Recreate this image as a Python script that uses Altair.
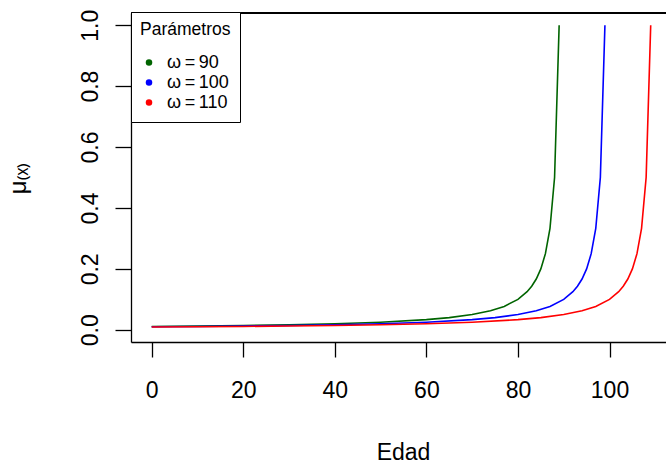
import altair as alt
import pandas as pd

# Values (force of mortality by age)
age_90 = [0, 10, 20, 30, 40, 50, 60, 65, 70, 74, 77, 80, 82, 83, 84, 85, 86, 87, 88, 89]
mu_90 = [0.0111, 0.0125, 0.0143, 0.0167, 0.02, 0.025, 0.0333, 0.04, 0.05, 0.0625,
         0.0769, 0.1, 0.125, 0.1429, 0.1667, 0.2, 0.25, 0.3333, 0.5, 1.0]
age_100 = [0, 10, 20, 30, 40, 50, 60, 70, 75, 80, 84, 87, 90, 92, 93, 94, 95, 96, 97, 98, 99]
mu_100 = [0.01, 0.0111, 0.0125, 0.0143, 0.0167, 0.02, 0.025, 0.0333, 0.04, 0.05, 0.0625,
          0.0769, 0.1, 0.125, 0.1429, 0.1667, 0.2, 0.25, 0.3333, 0.5, 1.0]
age_110 = [0, 10, 20, 30, 40, 50, 60, 70, 80, 85, 90, 94, 97, 100, 102, 103, 104, 105,
           106, 107, 108, 109]
mu_110 = [0.0091, 0.01, 0.0111, 0.0125, 0.0143, 0.0167, 0.02, 0.025, 0.0333, 0.04, 0.05,
          0.0625, 0.0769, 0.1, 0.125, 0.1429, 0.1667, 0.2, 0.25, 0.3333, 0.5, 1.0]

series = ["ω\u2009=\u200990", "ω\u2009=\u2009100", "ω\u2009=\u2009110"]
colors = ["#006400", "#0000FF", "#FF0000"]
x_ticks = [0, 20, 40, 60, 80, 100]
y_ticks = [0.0, 0.2, 0.4, 0.6, 0.8, 1.0]

rows = []
for name, ages, mus in zip(series, [age_90, age_100, age_110], [mu_90, mu_100, mu_110]):
    for a, m in zip(ages, mus):
        rows.append({"edad": a, "mu": m, "serie": name})
df = pd.DataFrame(rows)

FONT = "Liberation Sans"

x_enc = alt.X(
    "edad:Q",
    scale=alt.Scale(domain=[-4.52, 112.34], nice=False, zero=False),
    axis=alt.Axis(
        values=x_ticks, format="d", title="Edad", grid=False,
        tickSize=15, tickWidth=1.3, tickColor="black",
        domainColor="black", domainWidth=1.3,
        labelPadding=22, labelFontSize=23, labelFont=FONT, labelColor="black",
        titleFontSize=23, titleFont=FONT, titleColor="black", titleFontWeight="normal",
        titleX=272, titleY=117.5, titleBaseline="alphabetic", titleAlign="center",
        labelFlush=False, labelOverlap=False,
    ),
)
y_enc = alt.Y(
    "mu:Q",
    scale=alt.Scale(domain=[-0.04, 1.04], nice=False, zero=False),
    axis=alt.Axis(
        values=y_ticks, format=".1f", title="μ₍ₓ₎", grid=False,
        tickSize=16, tickWidth=1.3, tickColor="black",
        domainColor="black", domainWidth=1.3,
        labelAngle=270, labelAlign="center", labelBaseline="alphabetic",
        labelPadding=18, labelFontSize=23, labelFont=FONT, labelColor="black",
        titleFontSize=24, titleFont=FONT, titleColor="black", titleFontWeight="normal",
        titleAngle=270, titleX=-106, titleY=165, titleBaseline="alphabetic", titleAlign="center",
        labelFlush=False, labelOverlap=False,
    ),
)
color_enc = alt.Color(
    "serie:N",
    scale=alt.Scale(domain=series, range=colors),
    legend=alt.Legend(
        title="Parámetros", orient="none", legendX=0, legendY=-1,
        strokeColor="black", fillColor="white", padding=9, cornerRadius=0,
        titleFontSize=17.5, titleFont=FONT, titleFontWeight="normal", titleColor="black",
        titlePadding=14,
        labelFontSize=18, labelFont=FONT, labelColor="black", labelOffset=9,
        symbolType="circle", symbolSize=42, symbolOffset=0, symbolStrokeWidth=0,
        clipHeight=20, rowPadding=0,
    ),
)

dots = alt.Chart(df).mark_circle(opacity=1).encode(
    x=x_enc, y=y_enc, color=color_enc
).transform_filter("datum.mu > 5")

lines = alt.Chart(df).mark_line(strokeWidth=1.6).encode(
    x=x_enc, y=y_enc, color=color_enc, detail="serie:N"
)

top_rule = alt.Chart(df).mark_rule(color="black", strokeWidth=1.3).encode(
    x=alt.value(0), x2=alt.value(535), y=alt.value(0)
)

chart = alt.layer(dots, lines, top_rule).properties(
    width=535, height=329,
    autosize=alt.AutoSizeParams(type="none"),
    padding={"left": 131, "top": 13, "right": 0, "bottom": 122},
).configure_view(stroke=None).configure(background="white")

chart.save("out.html", embed_options={"renderer": "svg", "actions": False})
